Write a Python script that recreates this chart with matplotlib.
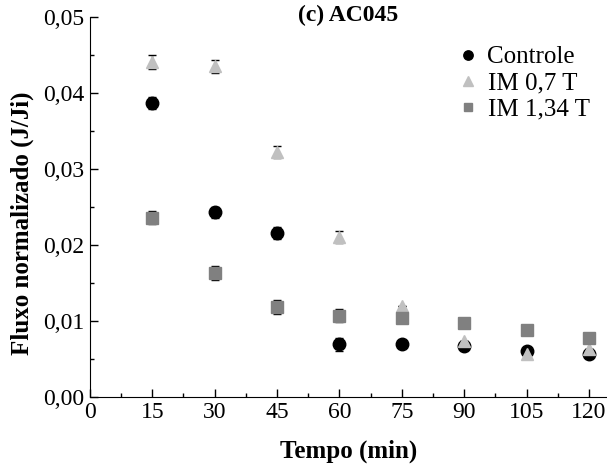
import matplotlib.pyplot as plt
from matplotlib.ticker import MultipleLocator, FuncFormatter

tempo = [15, 30, 45, 60, 75, 90, 105, 120]

controle = [0.0387, 0.0243, 0.0216, 0.0069, 0.0070, 0.0067, 0.0061, 0.0057]
controle_err = [0.0008, 0.0007, 0.0008, 0.0008, 0.0, 0.0, 0.0, 0.0]

im07 = [0.0441, 0.0435, 0.0322, 0.0210, 0.0119, 0.0074, 0.0056, 0.0063]
im07_err = [0.0009, 0.0009, 0.0008, 0.0008, 0.0, 0.0, 0.0, 0.0]

im134 = [0.0236, 0.0163, 0.0118, 0.0107, 0.0104, 0.0097, 0.0088, 0.0077]
im134_err = [0.0009, 0.0009, 0.0009, 0.0009, 0.0, 0.0, 0.0, 0.0]

plt.rcParams['font.family'] = ['Liberation Serif', 'DejaVu Serif']

fig = plt.figure(figsize=(6.07, 4.73), dpi=100)
ax = fig.add_axes([0.148, 0.161, 0.852, 0.803])

err_kw = dict(fmt='none', ecolor='black', elinewidth=1.0, capsize=3, capthick=1.0)
ax.errorbar(tempo, controle, yerr=controle_err, **err_kw)
ax.errorbar(tempo, im07, yerr=im07_err, **err_kw)
ax.errorbar(tempo, im134, yerr=im134_err, **err_kw)

ax.plot(tempo, controle, 'o', color='black', markersize=9, label='Controle')
ax.plot(tempo, im07, '^', color='#c0c0c0', markersize=9, label='IM 0,7 T')
ax.plot(tempo, im134, 's', color='#808080', markersize=8.5, label='IM 1,34 T')

ax.legend(loc='upper right', bbox_to_anchor=(1.0, 0.97), frameon=False,
          fontsize=18, handlelength=1.0, handletextpad=0.3, labelspacing=0.15,
          markerscale=0.75, borderpad=0.2)

ax.set_xlim(0, 124.3)
ax.set_ylim(0, 0.05)
ax.xaxis.set_major_locator(MultipleLocator(15))
ax.xaxis.set_minor_locator(MultipleLocator(7.5))
ax.yaxis.set_major_locator(MultipleLocator(0.01))
ax.yaxis.set_minor_locator(MultipleLocator(0.005))
ax.yaxis.set_major_formatter(FuncFormatter(lambda v, p: f"{v:.2f}".replace('.', ',')))
ax.tick_params(which='both', direction='in', labelsize=17)
ax.tick_params(which='major', length=6, width=1, pad=4)
ax.tick_params(which='minor', length=3, width=1)
ax.spines['top'].set_visible(False)
ax.spines['right'].set_visible(False)

ax.set_xlabel('Tempo (min)', fontsize=18, fontweight='bold', labelpad=12)
ax.set_ylabel('Fluxo normalizado (J/Ji)', fontsize=18, fontweight='bold')
ax.yaxis.set_label_coords(-0.108, 0.458)
ax.text(0.5, 1.005, '(c) AC045', transform=ax.transAxes, ha='center', va='center',
        fontsize=17, fontweight='bold')

fig.savefig('out.png', dpi=100)
